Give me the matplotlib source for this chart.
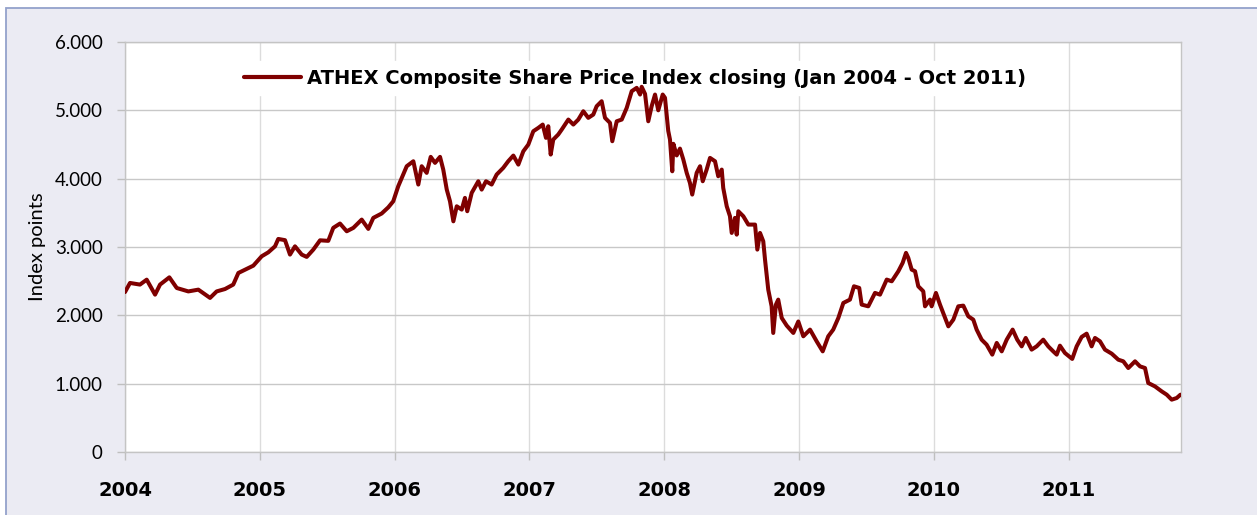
import matplotlib
matplotlib.use("Agg")
import matplotlib.pyplot as plt
from matplotlib.patches import Rectangle
from matplotlib.ticker import FuncFormatter

# Dates as decimal years, index closing values
dates = [
    2004.000, 2004.037, 2004.111, 2004.161, 2004.223, 2004.260, 2004.329, 2004.384,
    2004.470, 2004.544, 2004.631, 2004.680, 2004.742, 2004.803, 2004.841, 2004.952,
    2005.014, 2005.063, 2005.113, 2005.137, 2005.187, 2005.224, 2005.261, 2005.311,
    2005.348, 2005.397, 2005.447, 2005.508, 2005.545, 2005.595, 2005.645, 2005.694,
    2005.756, 2005.805, 2005.842, 2005.904, 2005.953, 2005.990,
    2006.027, 2006.053, 2006.090, 2006.139, 2006.176, 2006.201, 2006.238, 2006.268,
    2006.300, 2006.337, 2006.361, 2006.387, 2006.411, 2006.436, 2006.461, 2006.498,
    2006.522, 2006.539, 2006.572, 2006.621, 2006.646, 2006.678, 2006.720, 2006.757,
    2006.806, 2006.843, 2006.881, 2006.918, 2006.955, 2006.992,
    2007.029, 2007.066, 2007.099, 2007.123, 2007.140, 2007.158, 2007.177, 2007.214,
    2007.240, 2007.289, 2007.326, 2007.363, 2007.400, 2007.437, 2007.474, 2007.499,
    2007.536, 2007.561, 2007.598, 2007.615, 2007.648, 2007.685, 2007.722, 2007.759,
    2007.796, 2007.821, 2007.833, 2007.858, 2007.882, 2007.907, 2007.932, 2007.956,
    2007.989,
    2008.006, 2008.030, 2008.043, 2008.060, 2008.068, 2008.093, 2008.117, 2008.142,
    2008.167, 2008.191, 2008.208, 2008.241, 2008.266, 2008.286, 2008.315, 2008.340,
    2008.377, 2008.401, 2008.427, 2008.438, 2008.464, 2008.488, 2008.501, 2008.525,
    2008.538, 2008.550, 2008.587, 2008.624, 2008.674, 2008.691, 2008.711, 2008.735,
    2008.748, 2008.772, 2008.797, 2008.809, 2008.829, 2008.846, 2008.872, 2008.909,
    2008.958, 2008.995,
    2009.032, 2009.082, 2009.131, 2009.176, 2009.217, 2009.254, 2009.292, 2009.329,
    2009.378, 2009.408, 2009.447, 2009.465, 2009.514, 2009.564, 2009.601, 2009.651,
    2009.688, 2009.737, 2009.769, 2009.794, 2009.811, 2009.836, 2009.861, 2009.885,
    2009.922, 2009.935, 2009.972, 2009.984,
    2010.016, 2010.046, 2010.070, 2010.108, 2010.145, 2010.182, 2010.219, 2010.256,
    2010.293, 2010.318, 2010.355, 2010.392, 2010.434, 2010.467, 2010.504, 2010.541,
    2010.585, 2010.619, 2010.652, 2010.682, 2010.726, 2010.763, 2010.812, 2010.849,
    2010.886, 2010.912, 2010.936, 2010.973,
    2011.027, 2011.060, 2011.097, 2011.134, 2011.171, 2011.196, 2011.233, 2011.270,
    2011.320, 2011.369, 2011.406, 2011.443, 2011.493, 2011.530, 2011.567, 2011.591,
    2011.641, 2011.691, 2011.728, 2011.765, 2011.802, 2011.830,
]

values = [
    2340, 2474, 2450, 2522, 2303, 2450, 2556, 2400,
    2350, 2376, 2255, 2350, 2385, 2450, 2620, 2727,
    2864, 2922, 3010, 3118, 3100, 2889, 3010, 2889,
    2855, 2962, 3098, 3090, 3280, 3343, 3230, 3280,
    3401, 3265, 3426, 3490, 3580, 3669,
    3889, 4011, 4182, 4255, 3914, 4182, 4085, 4319,
    4231, 4319, 4133, 3840, 3669, 3376, 3596, 3547,
    3719, 3523, 3792, 3962, 3840, 3962, 3914, 4060,
    4158, 4255, 4338, 4206, 4401, 4499,
    4694, 4743, 4792, 4597, 4767, 4353, 4572, 4646,
    4719, 4865, 4792, 4865, 4987, 4890, 4938, 5060,
    5133, 4890, 4817, 4548, 4840, 4865, 5036, 5280,
    5329, 5231, 5344, 5240, 4840, 5060, 5231, 5000,
    5231,
    5183, 4700, 4572, 4108, 4510, 4340, 4440, 4279,
    4085, 3938, 3767, 4085, 4182, 3962, 4133, 4304,
    4255, 4035, 4133, 3865, 3596, 3450, 3206, 3426,
    3181, 3523, 3450, 3328, 3328, 2962, 3206, 3084,
    2816, 2376, 2132, 1742, 2157, 2230, 1962, 1850,
    1742, 1910,
    1693, 1791, 1620, 1473, 1693, 1791, 1962, 2181,
    2230, 2425, 2401, 2157, 2132, 2328, 2303, 2523,
    2498, 2645, 2767, 2914, 2840, 2669, 2645, 2425,
    2352, 2132, 2230, 2132,
    2328, 2157, 2035, 1839, 1937, 2132, 2142, 1986,
    1937, 1791, 1644, 1571, 1425, 1596, 1473, 1644,
    1791, 1644, 1546, 1669, 1498, 1546, 1644, 1546,
    1473, 1425, 1556, 1449,
    1362, 1546, 1684, 1732, 1546, 1669, 1620, 1498,
    1439, 1351, 1327, 1229, 1327, 1253, 1229, 1010,
    960, 887, 839, 766, 790, 839,
]

year_ticks = [2004, 2005, 2006, 2007, 2008, 2009, 2010, 2011]
value_ticks = [0, 1000, 2000, 3000, 4000, 5000, 6000]
series_label = "ATHEX Composite Share Price Index closing (Jan 2004 - Oct 2011)"
y_label = "Index points"

W, H = 1257, 515
fig = plt.figure(figsize=(W / 100, H / 100), dpi=100, facecolor="white")

# outer panel background with blue-gray border (top/left visible)
bg = Rectangle((6 / W, -0.05), 1.1, 1 - 8 / H + 0.05, transform=fig.transFigure,
               facecolor="#EBEBF3", edgecolor="#93A1CB", lw=1.3, zorder=-10)
fig.patches.append(bg)

ax = fig.add_axes([125 / W, 1 - 452 / H, 1056 / W, 410 / H])
ax.set_facecolor("white")

line_color = "#7F0000"
ax.plot(dates, values, color=line_color, lw=2.9, solid_joinstyle="round",
        solid_capstyle="round", zorder=3, label=series_label)

ax.set_xlim(2004.0, 2011.834)
ax.set_ylim(0, 6000)
ax.set_xticks(year_ticks)
ax.set_xticklabels([str(y) for y in year_ticks], fontweight="bold",
                   fontsize=14, family="DejaVu Sans")
ax.set_yticks(value_ticks)
ax.yaxis.set_major_formatter(FuncFormatter(lambda v, p: f"{int(v):,}".replace(",", ".")))
for lab in ax.get_yticklabels():
    lab.set_fontsize(13.5)
    lab.set_family("Lato")

ax.tick_params(axis="y", direction="out", length=6, width=1, color="#BFBFBF", pad=10)
ax.tick_params(axis="x", direction="out", length=6, width=1, color="#BFBFBF", pad=15)

ax.yaxis.grid(True, color="#C8C8C8", lw=1)
ax.xaxis.grid(True, color="#DCDCDC", lw=1)
ax.set_axisbelow(True)
for s in ax.spines.values():
    s.set_color("#C4C4C4")
    s.set_linewidth(1)

ax.set_ylabel(y_label, fontsize=14.5, family="Lato", labelpad=6)

leg = ax.legend(loc="upper center", bbox_to_anchor=(0.483, 0.978), frameon=True,
                fancybox=False, facecolor="white", edgecolor="white", framealpha=1,
                handlelength=2.9, handletextpad=0.3, borderpad=0.4,
                prop={"weight": "bold", "size": 14, "family": "DejaVu Sans"})
leg.get_lines()[0].set_linewidth(3)
leg.set_zorder(2.5)

fig.savefig("out.png", dpi=100, facecolor=fig.get_facecolor())
